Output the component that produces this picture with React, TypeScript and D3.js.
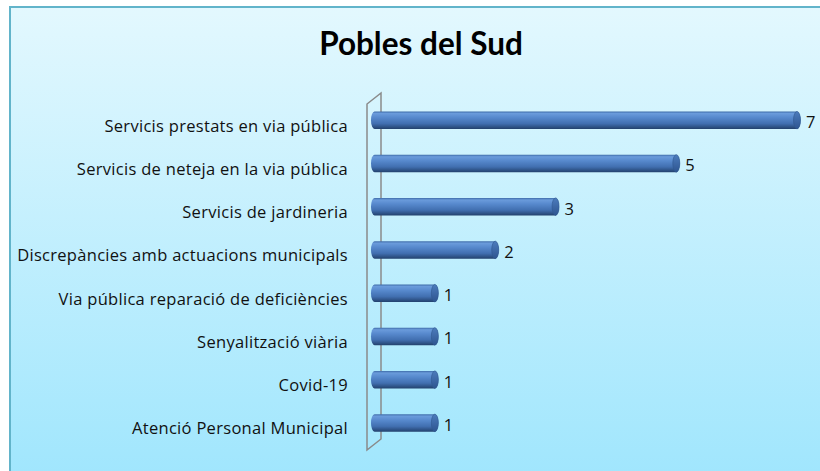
import React from "react";
import * as d3 from "d3";

const title = "Pobles del Sud";
const categories = [
  "Servicis prestats en via pública",
  "Servicis de neteja en la via pública",
  "Servicis de jardineria",
  "Discrepàncies amb actuacions municipals",
  "Via pública reparació de deficiències",
  "Senyalització viària",
  "Covid-19",
  "Atenció Personal Municipal",
];
const values = [7, 5, 3, 2, 1, 1, 1, 1];

const W = 820;
const H = 471;
const TITLE_FONT = "Lato, 'Open Sans', sans-serif";
const FONT = "'Open Sans', 'Noto Sans', sans-serif";

export default function App() {
  const depth = { dx: 14, dy: 11 };
  const backTop = 93;
  const backBottom = 439;
  const backX = 381;
  const midTop = backTop + depth.dy / 2;
  const midBottom = backBottom + depth.dy / 2;

  const y = d3.scaleBand<string>().domain(categories).range([midTop, midBottom]).padding(0);
  const x = d3.scaleLinear().domain([0, 7]).range([374.5, 797]);

  const barH = 17.5;
  const rx = 3.5;

  const frontX = backX - depth.dx;
  const wallPath = d3.path();
  wallPath.moveTo(frontX, backBottom + depth.dy);
  wallPath.lineTo(frontX, backTop + depth.dy);
  wallPath.lineTo(backX, backTop);
  wallPath.lineTo(backX, backBottom);
  wallPath.closePath();

  return (
    <svg
      width={W}
      height={H}
      style={{ position: "absolute", left: 0, top: 0, display: "block" }}
    >
      <defs>
        <linearGradient id="bg" x1="0" y1="0" x2="0" y2="1">
          <stop offset="0%" stopColor="#e3f8fe" />
          <stop offset="100%" stopColor="#a0e6fd" />
        </linearGradient>
        <linearGradient id="cyl" x1="0" y1="0" x2="0" y2="1">
          <stop offset="0%" stopColor="#3c69a6" />
          <stop offset="12%" stopColor="#6a9bdb" />
          <stop offset="35%" stopColor="#5789cd" />
          <stop offset="70%" stopColor="#416fb0" />
          <stop offset="100%" stopColor="#23426e" />
        </linearGradient>
        <linearGradient id="cap" x1="0" y1="0" x2="0" y2="1">
          <stop offset="0%" stopColor="#4c7cbd" />
          <stop offset="100%" stopColor="#2e5590" />
        </linearGradient>
      </defs>
      <rect x={10} y={7} width={W} height={H} fill="url(#bg)" stroke="#62b4ca" strokeWidth={2} />
      <text
        x={421}
        y={55}
        textAnchor="middle"
        fontFamily={TITLE_FONT}
        fontWeight="bold"
        fontSize={31.5}
        fill="#000"
      >
        {title}
      </text>
      <path d={wallPath.toString()} fill="none" stroke="#8a8a8a" strokeWidth={1.5} />
      {categories.map((c, i) => {
        const cy = (y(c) as number) + y.bandwidth() / 2;
        const x0 = x(0);
        const x1 = x(values[i]);
        const top = cy - barH / 2;
        return (
          <g key={c}>
            <text
              x={348}
              y={cy + 11.5}
              textAnchor="end"
              fontFamily={FONT}
              fontSize={16.5}
              letterSpacing={0.3}
              fill="#111"
            >
              {c}
            </text>
            <path
              d={`M${x0},${top} L${x1},${top} A${rx},${barH / 2} 0 0 1 ${x1},${top + barH} L${x0},${top + barH} A${rx},${barH / 2} 0 0 1 ${x0},${top} Z`}
              fill="url(#cyl)"
            />
            <ellipse cx={x1} cy={cy} rx={rx} ry={barH / 2} fill="url(#cap)" stroke="#2f578f" strokeWidth={0.6} />
            <text
              x={x1 + rx + 5.5}
              y={cy + 8}
              fontFamily={FONT}
              fontSize={16.5}
              fill="#111"
            >
              {values[i]}
            </text>
          </g>
        );
      })}
    </svg>
  );
}
